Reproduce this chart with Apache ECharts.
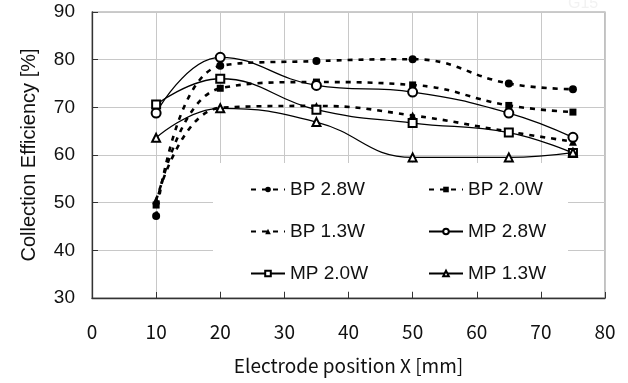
<!DOCTYPE html>
<html>
<head>
<meta charset="utf-8"/>
<title>Collection Efficiency</title>
<script src="https://cdn.jsdelivr.net/npm/echarts@6/dist/echarts.min.js"></script>
<style>
html,body{margin:0;padding:0;background:#fff;}
#main{width:628px;height:383px;}
</style>
</head>
<body>
<div id="main"></div>
<script type="text/javascript">
// electrode positions [mm]
var xPos = [10, 20, 35, 50, 65, 75];
// collection efficiency [%]
var bp28 = [47.2, 78.7, 79.7, 80.1, 75.0, 73.8];
var bp20 = [49.5, 74.0, 75.3, 74.7, 70.4, 69.0];
var bp13 = [50.5, 69.9, 70.3, 68.3, 64.9, 62.8];
var mp28 = [68.8, 80.5, 74.6, 73.2, 68.8, 63.7];
var mp20 = [70.6, 76.0, 69.5, 66.7, 64.7, 60.4];
var mp13 = [63.6, 69.8, 66.9, 59.5, 59.5, 60.5];
var names = ['BP 2.8W', 'BP 2.0W', 'BP 1.3W', 'MP 2.8W', 'MP 2.0W', 'MP 1.3W'];

function pairs(ys){
	var out = [];
	for (var i = 0; i < xPos.length; i++) out.push([xPos[i], ys[i]]);
	return out;
}

function bpSeries(name, ys, sym, size){
	return {
		name: name, type: 'line', smooth: 0.45,
		data: pairs(ys),
		symbol: sym, symbolSize: size,
		itemStyle: {color: '#000'},
		lineStyle: {color: '#000', width: 2.6, type: [5, 6]},
		z: 3
	};
}
function mpSeries(name, ys, sym, size){
	return {
		name: name, type: 'line', smooth: 0.45,
		data: pairs(ys),
		symbol: sym, symbolSize: size,
		itemStyle: {color: '#000', borderWidth: 1},
		lineStyle: {color: '#000', width: 1.3},
		z: 4
	};
}

var legendText = {fontFamily: 'Liberation Sans', fontSize: 19, color: '#111', lineHeight: 18};

var myChart = echarts.init(document.getElementById('main'));
var option = {
	animation: false,
	backgroundColor: '#fff',
	grid: {
		left: 92, right: 23, top: 12, bottom: 85,
		show: true, borderColor: '#999', borderWidth: 1.2
	},
	xAxis: {
		type: 'value', min: 0, max: 80, interval: 10,
		name: 'Electrode position X [mm]',
		nameLocation: 'middle', nameGap: 58,
		nameTextStyle: {fontFamily: 'Noto Sans CJK JP', fontSize: 19, color: '#111'},
		axisLine: {lineStyle: {color: '#333', width: 1.3}},
		axisTick: {inside: true, length: 6, lineStyle: {color: '#333'}},
		axisLabel: {margin: 24, fontFamily: 'Noto Sans CJK JP', fontSize: 19, color: '#111'},
		splitLine: {show: true, lineStyle: {color: '#c8c8c8', width: 1}}
	},
	yAxis: {
		type: 'value', min: 30, max: 90, interval: 10,
		name: 'Collection Efficiency [%]',
		nameLocation: 'middle', nameGap: 53,
		nameTextStyle: {fontFamily: 'Liberation Sans', fontSize: 20, color: '#111'},
		axisLine: {show: true, lineStyle: {color: '#333', width: 1.3}},
		axisTick: {show: true, inside: true, length: 6, lineStyle: {color: '#333'}},
		axisLabel: {margin: 17, fontFamily: 'Liberation Sans', fontSize: 19, color: '#111'},
		splitLine: {show: true, lineStyle: {color: '#c8c8c8', width: 1}}
	},
	legend: [
		{
			data: [names[0], names[2], names[4]],
			orient: 'vertical', left: 245, top: 175,
			itemWidth: 34, itemHeight: 7, itemGap: 23,
			textStyle: legendText
		},
		{
			data: [names[1], names[3], names[5]],
			orient: 'vertical', left: 423, top: 175,
			itemWidth: 34, itemHeight: 7, itemGap: 23,
			textStyle: legendText
		}
	],
	graphic: [
		// white legend box hiding the gridlines behind it
		{type: 'rect', z: 1, shape: {x: 213, y: 163, width: 355, height: 128}, style: {fill: '#fff'}},
		{type: 'text', left: 568, top: -4, style: {text: 'G15', fontSize: 16, fontFamily: 'Liberation Sans', fill: '#f2f2f2'}}
	],
	series: [
		bpSeries(names[0], bp28, 'circle', 8),
		bpSeries(names[1], bp20, 'rect', 7),
		bpSeries(names[2], bp13, 'triangle', 8),
		mpSeries(names[3], mp28, 'emptyCircle', 9),
		mpSeries(names[4], mp20, 'emptyRect', 8),
		mpSeries(names[5], mp13, 'emptyTriangle', 8)
	]
};
myChart.setOption(option);
window.onresize = function(){ myChart.resize(); };
</script>
</body>
</html>
